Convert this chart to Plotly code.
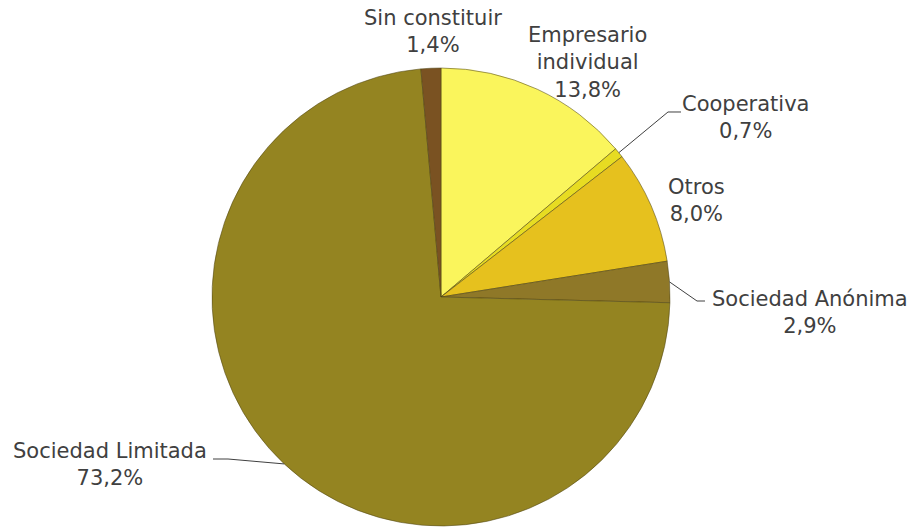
import math
import plotly.graph_objects as go

# Company legal form shares (percent), clockwise from 12 o'clock
labels = ["Empresario individual", "Cooperativa", "Otros", "Sociedad Anónima",
          "Sociedad Limitada", "Sin constituir"]
values = [13.8, 0.7, 8.0, 2.9, 73.2, 1.4]
display_names = ["Empresario<br>individual", "Cooperativa", "Otros", "Sociedad Anónima",
                 "Sociedad Limitada", "Sin constituir"]
colors = ["#FAF55C", "#E7DC22", "#E6C11E", "#8F7828", "#948421", "#7A5222"]

W, H = 917, 527
CX, CY, R = 441, 297, 229  # pie centre and radius in pixels


def px(x, y):
    return x / W, 1 - y / H


def fmt(v):
    return f"{v:.1f}".replace(".", ",") + "%"


fig = go.Figure(go.Pie(
    labels=labels,
    values=values,
    sort=False,
    direction="clockwise",
    rotation=0,
    textinfo="none",
    hoverinfo="label+percent",
    marker=dict(colors=colors, line=dict(color="rgba(80,70,20,0.55)", width=1)),
    domain=dict(x=[(CX - R) / W, (CX + R) / W], y=[1 - (CY + R) / H, 1 - (CY - R) / H]),
    showlegend=False,
))

# label text centre (pixels) for each slice
label_pos = {
    "Empresario individual": (587, 63),
    "Cooperativa": (745, 118),
    "Otros": (696, 200),
    "Sociedad Anónima": (810, 312),
    "Sociedad Limitada": (110, 464),
    "Sin constituir": (433, 31),
}
# leader lines: elbow point and end point (pixels)
leaders = {
    "Cooperativa": [(668, 112), (681, 112)],
    "Sociedad Anónima": [(697, 301), (705, 301)],
    "Sociedad Limitada": [(228, 459), (213, 459)],
}

total = sum(values)
cum = 0.0
annotations = []
shapes = []
for name, disp, v in zip(labels, display_names, values):
    mid = (cum + v / 2) / total * 2 * math.pi
    cum += v
    ex, ey = CX + R * math.sin(mid), CY - R * math.cos(mid)
    tx, ty = label_pos[name]
    annotations.append(dict(
        x=tx / W, y=1 - ty / H, xref="paper", yref="paper",
        text=f"{disp}<br>{fmt(v)}", showarrow=False, align="center",
        xanchor="center", yanchor="middle",
        font=dict(family="DejaVu Sans, Verdana, sans-serif", size=21, color="#404040"),
    ))
    if name in leaders:
        pts = [(ex, ey)] + leaders[name]
        path = "M " + " L ".join(f"{px(x, y)[0]:.5f},{px(x, y)[1]:.5f}" for x, y in pts)
        shapes.append(dict(type="path", xref="paper", yref="paper", path=path,
                           line=dict(color="#404040", width=1)))

fig.update_layout(
    width=W, height=H,
    margin=dict(l=0, r=0, t=0, b=0),
    paper_bgcolor="white",
    plot_bgcolor="white",
    annotations=annotations,
    shapes=shapes,
)

fig.write_html("out.html")
